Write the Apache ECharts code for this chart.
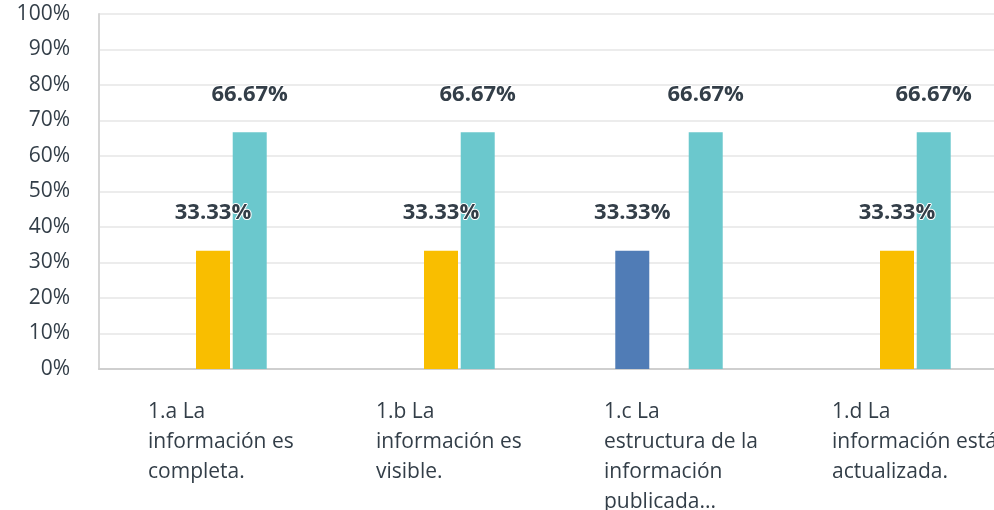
<!DOCTYPE html>
<html>
<head>
<meta charset="utf-8">
<script src="https://cdn.jsdelivr.net/npm/echarts@6/dist/echarts.min.js"></script>
<style>
  html, body { margin: 0; padding: 0; background: #fff; }
  #chart { width: 994px; height: 510px; }
</style>
</head>
<body>
<div id="chart"></div>
<script>
  // preguntas (eje x)
  var categories = [
    '1.a La\ninformación es\ncompleta.',
    '1.b La\ninformación es\nvisible.',
    '1.c La\nestructura de la\ninformación\npublicada...',
    '1.d La\ninformación está\nactualizada.'
  ]
  // porcentaje de respuestas por opción
  var opcion1 = [0, 0, 0, 0]
  var opcion2 = [0, 0, 33.33, 0]
  var opcion3 = [33.33, 33.33, 0, 33.33]
  var opcion4 = [66.67, 66.67, 66.67, 66.67]
  var opcion5 = [0, 0, 0, 0]
  var yTicks = [0, 10, 20, 30, 40, 50, 60, 70, 80, 90, 100]

  var colores = ['#a6a6a6', '#507cb6', '#f9be00', '#6bc8cd', '#dbdbdb']
  var datos = [opcion1, opcion2, opcion3, opcion4, opcion5]
  var fuente = 'Open Sans'

  var chart = echarts.init(document.getElementById('chart'))

  var series = datos.map(function(d, i) {
    return {
      type: 'bar',
      name: 'Opción ' + (i + 1),
      data: d,
      barWidth: 34,
      barGap: '8%',
      itemStyle: { color: colores[i] },
      label: {
        show: true,
        position: 'top',
        distance: 27,
        fontFamily: fuente,
        fontWeight: 'bold',
        fontSize: 22,
        color: '#333e48',
        textBorderColor: '#fff',
        textBorderWidth: 2,
        formatter: function(p) {
          return p.value > 0 ? p.value.toFixed(2) + '%' : ''
        }
      },
      z: 2
    }
  })

  chart.setOption({
    animation: false,
    grid: {
      left: 99, right: -17, top: 14, bottom: 141,
      containLabel: false, outerBoundsMode: 'none'
    },
    xAxis: {
      type: 'category',
      data: categories,
      axisLine: { lineStyle: { color: '#cfcfcf', width: 2 } },
      axisTick: { show: false },
      axisLabel: {
        interval: 0,
        margin: 28,
        formatter: function(v) {
          return v.split('\n').map(function(l) { return '{a|' + l + '}' }).join('\n')
        },
        rich: {
          a: {
            width: 130,
            align: 'left',
            fontFamily: fuente,
            fontSize: 21,
            lineHeight: 30,
            color: '#333e48'
          }
        }
      }
    },
    yAxis: {
      type: 'value',
      min: yTicks[0],
      max: yTicks[yTicks.length - 1],
      interval: 10,
      axisLine: { show: true, lineStyle: { color: '#d6d6d6', width: 2 } },
      axisTick: { show: false },
      splitLine: { lineStyle: { color: '#ececec', width: 2 } },
      axisLabel: {
        margin: 29,
        fontFamily: fuente,
        fontSize: 21,
        color: '#333e48',
        formatter: '{value}%'
      }
    },
    series: series
  })
</script>
</body>
</html>
